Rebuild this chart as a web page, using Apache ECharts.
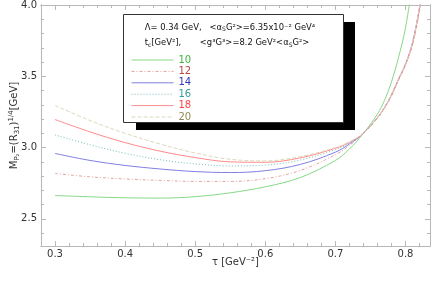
<!DOCTYPE html>
<html><head><meta charset="utf-8">
<script src="https://cdn.jsdelivr.net/npm/echarts@6/dist/echarts.min.js"></script>
<style>html,body{margin:0;padding:0;background:#fff}#c{width:436px;height:282px}</style>
</head><body><div id="c"></div>
<script>
// ---- data ----
const tau = [0.30,0.35,0.40,0.45,0.50,0.55,0.60,0.65,0.70,0.72,0.74,0.76,0.77,0.78,0.79,0.80,0.81,0.82,0.83];
const tc10 = [2.664,2.655,2.648,2.646,2.656,2.683,2.725,2.790,2.910,2.990,3.100,3.235,3.330,3.460,3.630,3.840,4.150,null,null];
const tc12 = [2.819,2.795,2.780,2.770,2.763,2.763,2.782,2.840,2.950,3.015,3.100,3.205,3.275,3.360,3.470,3.580,3.720,3.960,4.270];
const tc14 = [2.959,2.910,2.875,2.850,2.832,2.825,2.838,2.882,2.968,3.025,3.100,3.210,3.280,3.370,3.480,3.585,3.735,3.980,4.290];
const tc16 = [3.089,3.020,2.960,2.915,2.886,2.871,2.877,2.913,2.985,3.032,3.100,3.210,3.280,3.370,3.480,3.585,3.735,3.985,4.290];
const tc18 = [3.197,3.110,3.035,2.975,2.930,2.900,2.897,2.928,2.995,3.037,3.100,3.210,3.280,3.368,3.478,3.580,3.730,3.975,4.280];
const tc20 = [3.295,3.190,3.100,3.025,2.962,2.918,2.907,2.937,3.000,3.041,3.100,3.210,3.280,3.370,3.480,3.585,3.735,3.985,4.290];
const seriesNames = ['10','12','14','16','18','20'];
const xTickLabels = [0.3,0.4,0.5,0.6,0.7,0.8];
const yTickLabels = [2.5,3.0,3.5,4.0];
const xMinorTicks = [0.28,0.30,0.32,0.34,0.36,0.38,0.40,0.42,0.44,0.46,0.48,0.50,0.52,0.54,0.56,0.58,0.60,0.62,0.64,0.66,0.68,0.70,0.72,0.74,0.76,0.78,0.80,0.82];
const yMinorTicks = [2.4,2.5,2.6,2.7,2.8,2.9,3.0,3.1,3.2,3.3,3.4,3.5,3.6,3.7,3.8,3.9];

const allData = [tc10,tc12,tc14,tc16,tc18,tc20];
const lineColors = ['#86d886','#e6a2a2','#7f7fe0','#78baba','#ff8a8a','#dcd8bc'];
const textColors = ['#3fb43f','#c04444','#3535bb','#379c9c','#ff4646','#8c8a52'];
const lineTypes = ['solid',[3,2,1,2],'solid',[1,2],'solid',[4,2]];

const FONT = 'DejaVu Sans';
const frame = '#b8b8b8';
const X_MIN = 0.28, X_MAX = 0.835, Y_MIN = 2.31, Y_MAX = 4.0;

function xAx(pos, ticks, len, labels) {
  return {type:'value', min:X_MIN, max:X_MAX, position:pos,
    axisLine:{show:true, onZero:false, lineStyle:{color:frame,width:1}},
    axisTick:{show:true, inside:true, length:len, customValues:ticks, lineStyle:{color:frame}},
    axisLabel:labels ? {show:true, customValues:xTickLabels, formatter:v=>v.toFixed(1), color:'#333', fontFamily:FONT, fontSize:10, margin:3} : {show:false},
    splitLine:{show:false}};
}
function yAx(pos, ticks, len, labels) {
  return {type:'value', min:Y_MIN, max:Y_MAX, position:pos,
    axisLine:{show:true, onZero:false, lineStyle:{color:frame,width:1}},
    axisTick:{show:true, inside:true, length:len, customValues:ticks, lineStyle:{color:frame}},
    axisLabel:labels ? {show:true, customValues:yTickLabels, formatter:v=>v.toFixed(1), color:'#333', fontFamily:FONT, fontSize:10, margin:4} : {show:false},
    splitLine:{show:false}};
}

const xAxes = [xAx('bottom', xTickLabels, 5, true), xAx('bottom', xMinorTicks, 3, false), xAx('top', xTickLabels, 5, false), xAx('top', xMinorTicks, 3, false)];
Object.assign(xAxes[0], {name:'τ [GeV⁻²]', nameLocation:'middle', nameGap:11, nameMoveOverlap:false, nameTextStyle:{fontFamily:FONT, fontSize:10, color:'#333', verticalAlign:'top'}});
const yAxes = [yAx('left', yTickLabels, 5, true), yAx('left', yMinorTicks, 3, false), yAx('right', yTickLabels, 5, false), yAx('right', yMinorTicks, 3, false)];
Object.assign(yAxes[0], {name:'M{s|P₂}=(R{s|31}){p|1/4}[GeV]', nameLocation:'middle', nameGap:20, nameRotate:90, nameMoveOverlap:false,
  nameTextStyle:{fontFamily:FONT, fontSize:10, color:'#333', lineHeight:13,
    rich:{s:{fontFamily:FONT, fontSize:7, color:'#333', verticalAlign:'bottom', lineHeight:8}, p:{fontFamily:FONT, fontSize:7, color:'#333', verticalAlign:'top', lineHeight:8}}}});

const series = seriesNames.map((n,i)=>({
  name:n, type:'line', xAxisIndex:0, yAxisIndex:0, smooth:0.35, symbol:'none', clip:true,
  lineStyle:{color:lineColors[i], width:1, type:lineTypes[i]}, itemStyle:{color:lineColors[i]},
  data: tau.map((t,k)=>[t, allData[i][k]]), z:2
}));

const smallRich = {
  s:{fontFamily:FONT, fontSize:6, color:'#111', verticalAlign:'bottom', lineHeight:6},
};

const option = {
  animation:false,
  grid:{left:41, right:6, top:5, bottom:36, show:false, outerBoundsMode:'none', containLabel:false},
  xAxis:xAxes, yAxis:yAxes, series,
  legend:{
    orient:'vertical', left:131, top:55, padding:0, itemWidth:42, itemHeight:10, itemGap:1.4, itemTextGap:5,
    z:20, zlevel:1, itemStyle:{opacity:0}, lineStyle:{width:1},
    data: seriesNames.map((n,i)=>({name:n, textStyle:{color:textColors[i], fontFamily:FONT, fontSize:10, lineHeight:10}})),
    selectedMode:false
  },
  graphic:[
    {type:'rect', z:5, shape:{x:136, y:22, width:219, height:108}, style:{fill:'#000'}},
    {type:'rect', z:6, shape:{x:123.5, y:14.5, width:220, height:108}, style:{fill:'#fff', stroke:'#333', lineWidth:1}},
    {type:'text', z:7, x:230, y:27.5, style:{text:'Λ= 0.34 GeV,   <α{s|S}G²>=6.35x10⁻² GeV⁴', fill:'#111', font:'8.4px '+FONT, align:'center', verticalAlign:'middle', lineHeight:10, rich:smallRich}},
    {type:'text', z:7, x:227, y:43, style:{text:'t{s|c}[GeV²],       <g³G³>=8.2 GeV²<α{s|S}G²>', fill:'#111', font:'8.4px '+FONT, align:'center', verticalAlign:'middle', lineHeight:10, rich:smallRich}}
  ]
};
echarts.init(document.getElementById('c'), null, {renderer:'canvas'}).setOption(option);
</script></body></html>
